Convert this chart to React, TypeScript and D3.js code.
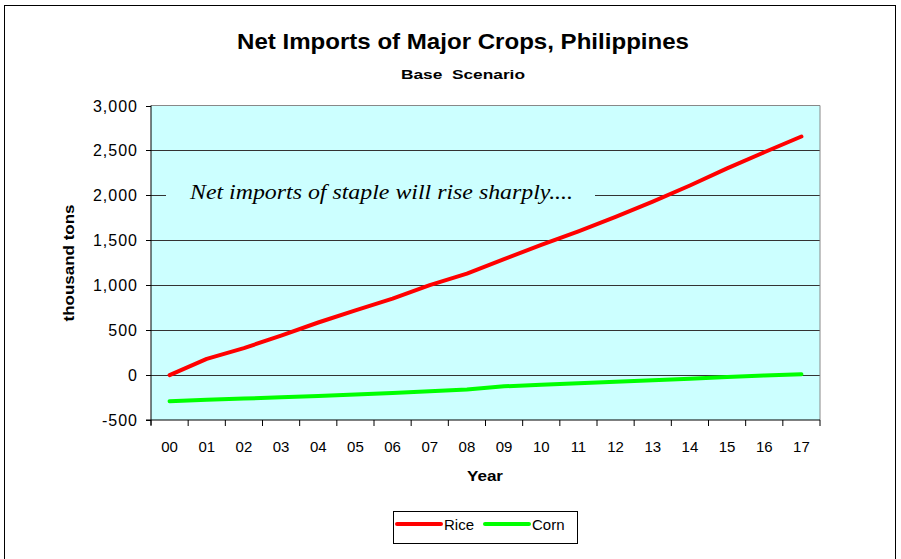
import React from "react";
import * as d3 from "d3";

const years = ["00","01","02","03","04","05","06","07","08","09","10","11","12","13","14","15","16","17"];
const rice = [0,180,300,440,585,720,850,1000,1130,1290,1450,1600,1760,1930,2110,2300,2480,2655];
const corn = [-290,-275,-262,-248,-232,-215,-200,-180,-160,-125,-108,-92,-75,-58,-40,-22,-5,10];
const yTicks = [-500,0,500,1000,1500,2000,2500,3000];
const seriesNames = ["Rice","Corn"];
const seriesColors = ["#FF0000","#00FF00"];

export default function App() {
  const W = 901, H = 559;
  const left = 151, right = 820, top = 105.5, bottom = 420;
  const x = d3.scaleBand<string>().domain(years).range([left, right]);
  const y = d3.scaleLinear().domain([-500, 3000]).range([bottom, top]);
  const fmt = (v: number) => d3.format(",")(v).replace("\u2212", "-");
  const line = d3.line<number>()
    .x((_, i) => (x(years[i]) as number) + x.bandwidth() / 2)
    .y((d) => y(d));
  const data = [rice, corn];
  const arial = "Arial, 'Liberation Sans', sans-serif";
  return (
    <svg width={W} height={H} style={{ position: "absolute", left: 0, top: 0 }} fontFamily={arial}>
      <rect x={0} y={0} width={W} height={H} fill="#fff" />
      <rect x={4.5} y={5.5} width={891} height={560} fill="#fff" stroke="#000" strokeWidth={1} />
      <text x={237} y={49} fontSize={22} fontWeight="bold" textLength={452} lengthAdjust="spacingAndGlyphs">Net Imports of Major Crops, Philippines</text>
      <text x={401} y={79} fontSize={13.5} fontWeight="bold" textLength={124} lengthAdjust="spacingAndGlyphs" xmlSpace="preserve">Base  Scenario</text>
      <rect x={left} y={top} width={right - left} height={bottom - top} fill="#CCFFFF" />
      {yTicks.filter((t) => t > -500 && t < 3000).map((t) => (
        <line key={"g" + t} x1={left} x2={right} y1={Math.round(y(t)) + 0.5} y2={Math.round(y(t)) + 0.5} stroke="#333" strokeWidth={1} />
      ))}
      <line x1={left} x2={right} y1={top} y2={top} stroke="#888" />
      <line x1={right} x2={right} y1={top} y2={bottom} stroke="#888" />
      <rect x={166} y={183} width={429} height={26} fill="#CCFFFF" />
      <text x={190} y={199} fontFamily="'Times New Roman', 'Liberation Serif', serif" fontStyle="italic" fontSize={22} textLength={383} lengthAdjust="spacingAndGlyphs">Net imports of staple will rise sharply....</text>
      {data.map((d, i) => (
        <path key={i} d={line(d) || ""} fill="none" stroke={seriesColors[i]} strokeWidth={4} strokeLinecap="round" strokeLinejoin="round" />
      ))}
      <line x1={left} x2={left} y1={top} y2={bottom + 5} stroke="#000" />
      <line x1={left - 5} x2={right} y1={bottom} y2={bottom} stroke="#000" />
      {yTicks.map((t) => (
        <g key={"t" + t}>
          <line x1={left - 5} x2={left} y1={Math.round(y(t)) + 0.5} y2={Math.round(y(t)) + 0.5} stroke="#000" />
          <text x={138} y={y(t) + 6} textAnchor="end" fontSize={16} letterSpacing={1}>{fmt(t)}</text>
        </g>
      ))}
      {years.map((yr) => (
        <g key={yr}>
          <line x1={x(yr) as number} x2={x(yr) as number} y1={bottom} y2={bottom + 6} stroke="#000" />
          <text x={(x(yr) as number) + x.bandwidth() / 2} y={452} textAnchor="middle" fontSize={15}>{yr}</text>
        </g>
      ))}
      <line x1={right} x2={right} y1={bottom} y2={bottom + 6} stroke="#000" />
      <text x={485} y={481} textAnchor="middle" fontSize={14} fontWeight="bold" textLength={36} lengthAdjust="spacingAndGlyphs">Year</text>
      <text transform={`translate(74,263) rotate(-90)`} textAnchor="middle" fontSize={14} fontWeight="bold" textLength={117} lengthAdjust="spacingAndGlyphs">thousand tons</text>
      <rect x={393.5} y={511.5} width={184} height={32} fill="#fff" stroke="#000" />
      {seriesNames.map((n, i) => {
        const lx = 397 + i * 88;
        return (
          <g key={n}>
            <line x1={lx} x2={lx + 44} y1={524} y2={524} stroke={seriesColors[i]} strokeWidth={4} strokeLinecap="round" />
            <text x={lx + 47} y={530} fontSize={15}>{n}</text>
          </g>
        );
      })}
    </svg>
  );
}
